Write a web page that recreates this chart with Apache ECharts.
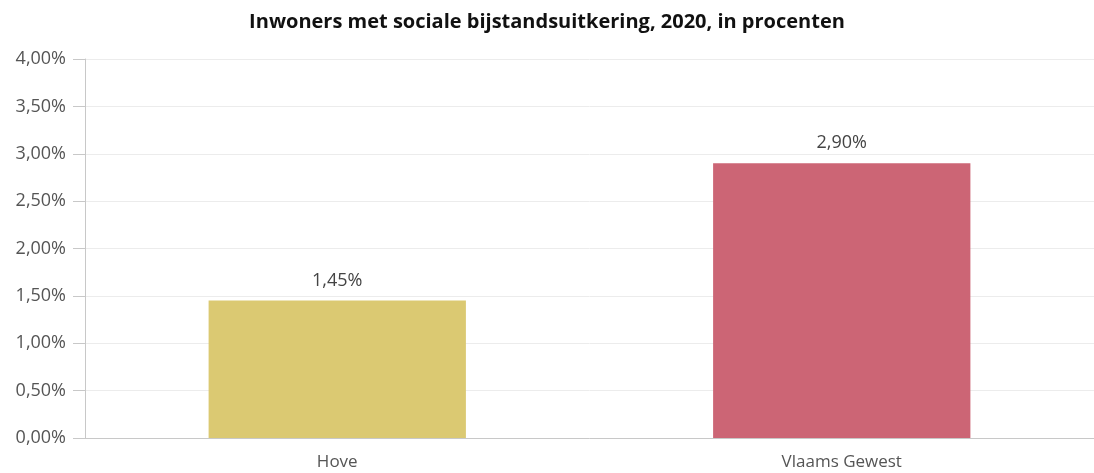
<!DOCTYPE html>
<html><head><meta charset="utf-8">
<script src="https://cdn.jsdelivr.net/npm/echarts@6/dist/echarts.min.js"></script>
<style>html,body{margin:0;padding:0;background:#fff}#c{width:1094px;height:473px}</style>
</head><body><div id="c"></div>
<script>
var categories = ['Hove', 'Vlaams Gewest'];
var values = [1.45, 2.90];
var barColors = ['#dbc972', '#cc6575'];
var yTicks = [0, 0.5, 1, 1.5, 2, 2.5, 3, 3.5, 4];
var titleText = 'Inwoners met sociale bijstandsuitkering, 2020, in procenten';

function fmt(v){ return v.toFixed(2).replace('.', ',') + '%'; }

var chart = echarts.init(document.getElementById('c'));
chart.setOption({
  animation: false,
  title: { text: titleText, left: 'center', top: 7,
    textStyle: { fontFamily: 'Open Sans', fontSize: 20, fontWeight: 'bold', color: '#111' } },
  grid: { left: 85, right: -1, top: 59, bottom: 35, containLabel: false },
  xAxis: { type: 'category', data: categories,
    axisLine: { lineStyle: { color: '#c8c8c8', width: 1 } },
    axisTick: { show: false },
    axisLabel: { color: '#555', fontFamily: 'Open Sans', fontSize: 17, margin: 16 } },
  yAxis: { type: 'value', min: 0, max: 4, interval: 0.5,
    axisLine: { show: true, lineStyle: { color: '#c8c8c8' } },
    axisTick: { show: true, length: 12, lineStyle: { color: '#c8c8c8' } },
    splitLine: { lineStyle: { color: '#ececec' } },
    axisLabel: { color: '#555', fontFamily: 'Open Sans', fontSize: 18, margin: 19,
      formatter: function(v){ return fmt(v); } } },
  series: [{ type: 'bar', barWidth: '51%',
    data: values.map(function(v, i){ return { value: v, itemStyle: { color: barColors[i] } }; }),
    label: { show: true, position: 'top', distance: 11, color: '#444', fontFamily: 'Open Sans', fontSize: 18,
      formatter: function(p){ return fmt(p.value); } } }]
});
</script></body></html>
